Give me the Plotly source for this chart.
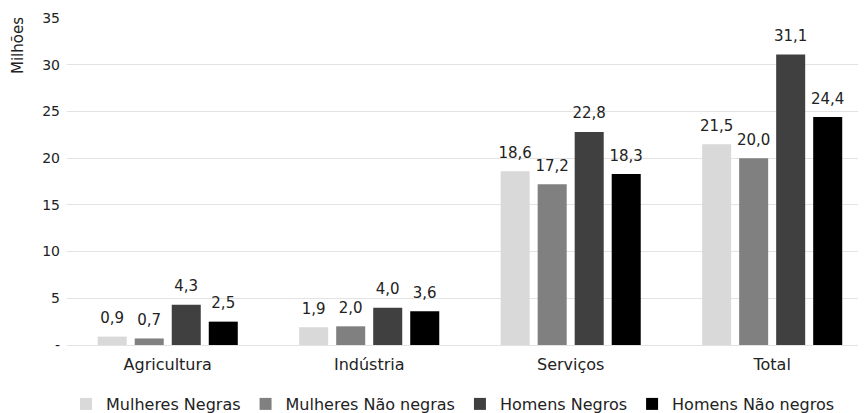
import plotly.graph_objects as go

categories = ["Agricultura", "Indústria", "Serviços", "Total"]
series_names = ["Mulheres Negras", "Mulheres Não negras", "Homens Negros", "Homens Não negros"]
mulheres_negras = [0.9, 1.9, 18.6, 21.5]
mulheres_nao_negras = [0.7, 2.0, 17.2, 20.0]
homens_negros = [4.3, 4.0, 22.8, 31.1]
homens_nao_negros = [2.5, 3.6, 18.3, 24.4]
y_tick_vals = [0, 5, 10, 15, 20, 25, 30, 35]
y_tick_text = ["-", "5", "10", "15", "20", "25", "30", "35"]

colors = ["#d9d9d9", "#808080", "#404040", "#000000"]
values = [mulheres_negras, mulheres_nao_negras, homens_negros, homens_nao_negros]

FONT = "DejaVu Sans"
TXT = "#222222"
fig = go.Figure()
for i, (name, vals, c) in enumerate(zip(series_names, values, colors)):
    fig.add_trace(go.Bar(
        x=categories, y=vals, name=name, offsetgroup=str(i),
        marker=dict(color=c, line=dict(width=0)),
        hoverinfo="skip",
    ))
for i, vals in enumerate(values):
    fig.add_trace(go.Scatter(
        x=categories, y=vals, offsetgroup=str(i), mode="markers+text",
        text=[f"{v:.1f}".replace(".", ",") for v in vals],
        textposition="top center",
        marker=dict(size=14, opacity=0),
        textfont=dict(family=FONT, size=15, color=TXT),
        showlegend=False, cliponaxis=False, hoverinfo="skip",
    ))

L, R, T, B = 67, 6, 18, 68
pw = 864 - L - R
ph = 413 - T - B

fig.update_layout(
    width=864, height=413,
    margin=dict(l=L, r=R, t=T, b=B, autoexpand=False),
    paper_bgcolor="white", plot_bgcolor="white",
    separators=",.",
    barmode="group", bargap=0.265, bargroupgap=0.216,
    scattermode="group", scattergap=0.265,
    font=dict(family=FONT, size=14, color=TXT),
    showlegend=True,
    legend=dict(orientation="h", x=(453 - L) / pw, xanchor="center", y=-59 / ph, yanchor="middle",
                font=dict(family=FONT, size=16, color=TXT),
                itemwidth=30, traceorder="normal"),
    xaxis=dict(showgrid=False, showline=False, ticks="", ticklabelstandoff=8,
               range=[-0.5, 3.426],
               tickfont=dict(family=FONT, size=16, color=TXT)),
    yaxis=dict(range=[0, 35], tickvals=y_tick_vals, ticktext=y_tick_text,
               showgrid=True, gridcolor="#e3e3e3", gridwidth=1,
               zeroline=True, zerolinecolor="#e3e3e3", zerolinewidth=1,
               showline=False, ticks="", ticklabelstandoff=6,
               tickfont=dict(family=FONT, size=14, color=TXT)),
    annotations=[dict(text="Milhões", textangle=-90, xref="paper", yref="paper",
                      x=(18 - L) / pw, y=(ph + T - 46) / ph, xanchor="center", yanchor="middle",
                      showarrow=False, font=dict(family=FONT, size=15, color=TXT))],
)

fig.write_html("out.html")
